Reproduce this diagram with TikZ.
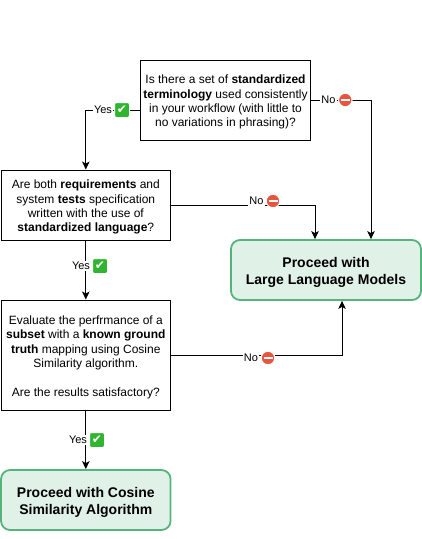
\documentclass[tikz,border=0pt]{standalone}
\usepackage{fontspec}
\setmainfont{Liberation Sans}
\newfontfamily\symbolfont{DejaVu Sans}
\usetikzlibrary{arrows.meta,positioning}
\definecolor{greenfill}{HTML}{E0F1E7}
\definecolor{greenline}{HTML}{55B37C}
\definecolor{yesgreen}{HTML}{2FB52F}
\definecolor{nored}{HTML}{E8553F}
\newcommand{\toppad}[1]{\rule{0pt}{#1}}
\begin{document}
\begin{tikzpicture}[
    x=1pt, y=-1pt,
    questionstyle/.style={rectangle, draw=black, line width=1pt, align=center, inner sep=0pt, font=\fontsize{12}{14.3}\selectfont},
    resultstyle/.style={rectangle, rounded corners=9pt, draw=greenline, fill=greenfill, line width=1.8pt, align=center, inner sep=0pt, minimum height=60pt, font=\fontsize{14}{17.6}\selectfont\bfseries},
    arrowstyle/.style={-{Stealth[length=8pt,width=7.5pt,inset=2pt]}, line width=1pt},
    labelstyle/.style={fill=white, inner sep=1pt, font=\fontsize{11}{13}\selectfont},
    yesicon/.style={rectangle, rounded corners=2pt, fill=yesgreen, draw=white, line width=1pt, text=white, inner sep=0pt, minimum size=15pt, font=\symbolfont\fontsize{12}{12}\selectfont},
    noicon/.style={circle, fill=nored, draw=white, line width=1pt, inner sep=0pt, minimum size=13.5pt,
        path picture={\fill[white] ([xshift=-4.5pt,yshift=-1.3pt]path picture bounding box.center) rectangle ([xshift=4.5pt,yshift=1.3pt]path picture bounding box.center);}}
]
    \useasboundingbox (0,0) rectangle (422,539);

    \node[questionstyle, minimum width=170pt, minimum height=80pt] (terminology) at (225.5,100) {\toppad{13pt}Is there a set of \textbf{standardized}\\ \textbf{terminology} used consistently\\ in your workflow (with little to\\ no variations in phrasing)?};
    \node[questionstyle, minimum width=169.5pt, minimum height=70pt] (language) at (85.8,205) {\toppad{13pt}Are both \textbf{requirements} and\\ system \textbf{tests} specification\\ written with the use of\\ \textbf{standardized language}?};
    \node[questionstyle, minimum width=169.5pt, minimum height=110pt] (evaluate) at (85.8,355) {\toppad{13pt}Evaluate the perfrmance of a\\ \textbf{subset} with a \textbf{known ground}\\ \textbf{truth} mapping using Cosine\\ Similarity algorithm.\\ \mbox{}\\ Are the results satisfactory?};
    \node[resultstyle, minimum width=190pt] (llm) at (326,270) {\toppad{15pt}Proceed with\\ Large Language Models};
    \node[resultstyle, minimum width=169.5pt] (cosine) at (85.8,500) {\toppad{15pt}Proceed with Cosine\\ Similarity Algorithm};

    \draw[arrowstyle] ([yshift=-10pt]terminology.west) -| (language.north);
    \draw[arrowstyle] (terminology.east) -| ([xshift=45pt]llm.north);
    \draw[arrowstyle] (language.east) -| ([xshift=-11pt]llm.north);
    \draw[arrowstyle] (language.south) -- (evaluate.north);
    \draw[arrowstyle] (evaluate.east) -| ([xshift=16pt]llm.south);
    \draw[arrowstyle] (evaluate.south) -- (cosine.north);

    % edge labels
    \node[labelstyle] (yesone) at (103,110) {Yes};
    \node[yesicon] (yesonemark) at (122,110) {✔};
    \node[labelstyle] (noone) at (328.5,100) {No};
    \node[noicon] (noonemark) at (345.3,100) {};
    \node[labelstyle] (yestwo) at (81,266) {Yes};
    \node[yesicon] (yestwomark) at (100,266) {✔};
    \node[labelstyle] (notwo) at (256.5,201) {No};
    \node[noicon] (notwomark) at (273,201) {};
    \node[labelstyle] (nothree) at (251,358) {No};
    \node[noicon] (nothreemark) at (268,358) {};
    \node[labelstyle] (yesthree) at (78,440) {Yes};
    \node[yesicon] (yesthreemark) at (97,440) {✔};
\end{tikzpicture}
\end{document}
